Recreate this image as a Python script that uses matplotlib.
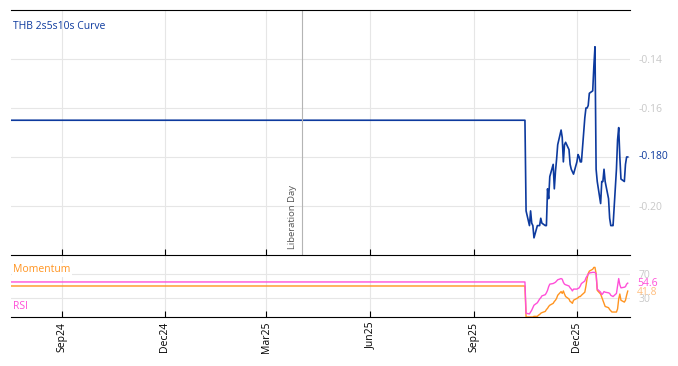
import pandas as pd
import numpy as np
import matplotlib
matplotlib.use('Agg')
import matplotlib.pyplot as plt
import matplotlib.dates as mdates

plt.rcParams['font.family'] = ['Open Sans', 'DejaVu Sans']

# flat history before the curve starts moving
flat_dates = ['2024-07-01', '2025-10-16']
flat_curve = [-0.165, -0.165]
flat_rsi = [56.5, 56.5]
flat_mom = [50.0, 50.0]

# business days from 17 Oct 2025 to 15 Jan 2026
live_start = '2025-10-17'
curve = [-0.202, -0.208, -0.202, -0.207, -0.208, -0.213, -0.208, -0.208, -0.208, -0.205,
         -0.207, -0.208, -0.208, -0.193, -0.197, -0.188, -0.183, -0.193, -0.186, -0.181,
         -0.175, -0.169, -0.172, -0.182, -0.175, -0.174, -0.177, -0.183, -0.185, -0.186,
         -0.187, -0.182, -0.179, -0.180, -0.182, -0.182, -0.164, -0.160, -0.160, -0.159,
         -0.154, -0.153, -0.143, -0.135, -0.185, -0.190, -0.199, -0.190, -0.190, -0.185,
         -0.190, -0.197, -0.205, -0.208, -0.208, -0.208, -0.185, -0.173, -0.168, -0.180,
         -0.189, -0.190, -0.183, -0.180, -0.180]
rsi = [6, 5, 8, 11, 15, 19, 23, 26, 29, 31,
       34, 36, 39, 43, 49, 53, 54, 55, 56, 58,
       60, 62, 61, 56, 53, 52, 50, 47, 45, 42,
       45, 45, 46, 47, 50, 54, 58, 63, 66, 69,
       71, 72, 72, 72, 69, 45, 40, 36, 38, 41,
       40, 39, 38, 35, 34, 33, 38, 50, 62, 52,
       47, 48, 49, 53, 54.6]
momentum = [0, 0, 0, 0, 0, 1, 1, 3, 4, 6,
            7, 9, 12, 14, 17, 19, 22, 25, 27, 30,
            35, 41, 38, 42, 37, 33, 29, 25, 24, 22,
            27, 30, 31, 33, 33, 35, 40, 50, 62, 70,
            74, 77, 80, 80, 70, 43, 37, 32, 27, 22,
            17, 15, 12, 10, 8, 8, 8, 13, 29, 37,
            27, 24, 27, 35, 41.8]

live_dates = pd.bdate_range(live_start, periods=len(curve))
dates = pd.to_datetime(flat_dates).append(live_dates)
curve_all = flat_curve + curve
rsi_all = flat_rsi + rsi
mom_all = flat_mom + momentum

blue = '#0d3a9e'
orange = '#ff9420'
pink = '#ff4fd8'
grey_lbl = '#c8c8c8'
grid_c = '#e6e6e6'

fig = plt.figure(figsize=(6.78, 3.66), dpi=100)
ax = fig.add_axes([0.0162, 0.3033, 0.9130, 0.6694])
ax2 = fig.add_axes([0.0162, 0.1339, 0.9130, 0.1694], sharex=ax)

ax.plot(dates, curve_all, color=blue, lw=1.2)
ax2.plot(dates, mom_all, color=orange, lw=1.0)
ax2.plot(dates, rsi_all, color=pink, lw=1.0)

ax.set_xlim(pd.Timestamp('2024-07-18'), pd.Timestamp('2026-01-17'))
ax.set_ylim(-0.22, -0.12)
ax2.set_ylim(0, 100)

for a in (ax, ax2):
    a.xaxis.set_major_locator(mdates.MonthLocator(bymonth=[3, 6, 9, 12]))
    a.xaxis.set_major_formatter(mdates.DateFormatter('%b%y'))
    a.grid(True, color=grid_c, lw=0.8)
    a.set_axisbelow(True)
    a.spines['left'].set_visible(False)
    a.spines['right'].set_visible(False)
    a.yaxis.tick_right()
    a.tick_params(axis='y', length=0, pad=6, labelsize=7.5, labelcolor=grey_lbl)
    a.tick_params(axis='x', direction='in', length=4, color='black')

ax.spines['bottom'].set_visible(False)
ax2.spines['top'].set_color('black')
ax.tick_params(axis='x', labelbottom=False)
ax2.tick_params(axis='x', labelsize=7.5, rotation=90)

ax.set_yticks([-0.20, -0.18, -0.16, -0.14])
ax.set_yticklabels(['-0.20', '', '-0.16', '-0.14'])
ax2.set_yticks([30, 70])

# last value labels
ax.annotate(f'{curve[-1]:.3f}', xy=(1, curve[-1]), xycoords=('axes fraction', 'data'),
            xytext=(6, 0), textcoords='offset points', color=blue, fontsize=7.5, va='center')
ax2.annotate(f'{rsi[-1]:.1f}', xy=(1, rsi[-1]), xycoords=('axes fraction', 'data'),
             xytext=(5, 0), textcoords='offset points', color=pink, fontsize=7.5, va='center')
ax2.annotate(f'{momentum[-1]:.1f}', xy=(1, momentum[-1]), xycoords=('axes fraction', 'data'),
             xytext=(5, -1), textcoords='offset points', color='#ffbf80', fontsize=7.5, va='center')

# event marker
lib_day = pd.Timestamp('2025-04-02')
ax.axvline(lib_day, color='#b4b4b4', lw=0.8)
ax.text(lib_day - pd.Timedelta(days=5), -0.2175, 'Liberation Day', rotation=90,
        fontsize=6.8, color='#555555', ha='right', va='bottom')

ax.text(0.004, 0.955, 'THB 2s5s10s Curve', transform=ax.transAxes, color=blue,
        fontsize=7.5, va='top', ha='left')
ax2.text(0.004, 0.85, 'Momentum', transform=ax2.transAxes, color=orange, fontsize=7.5,
         va='top', ha='left', bbox=dict(facecolor='white', edgecolor='none', pad=1))
ax2.text(0.004, 0.08, 'RSI', transform=ax2.transAxes, color=pink, fontsize=7.5,
         va='bottom', ha='left', bbox=dict(facecolor='white', edgecolor='none', pad=1))

fig.savefig('out.png', dpi=100)
